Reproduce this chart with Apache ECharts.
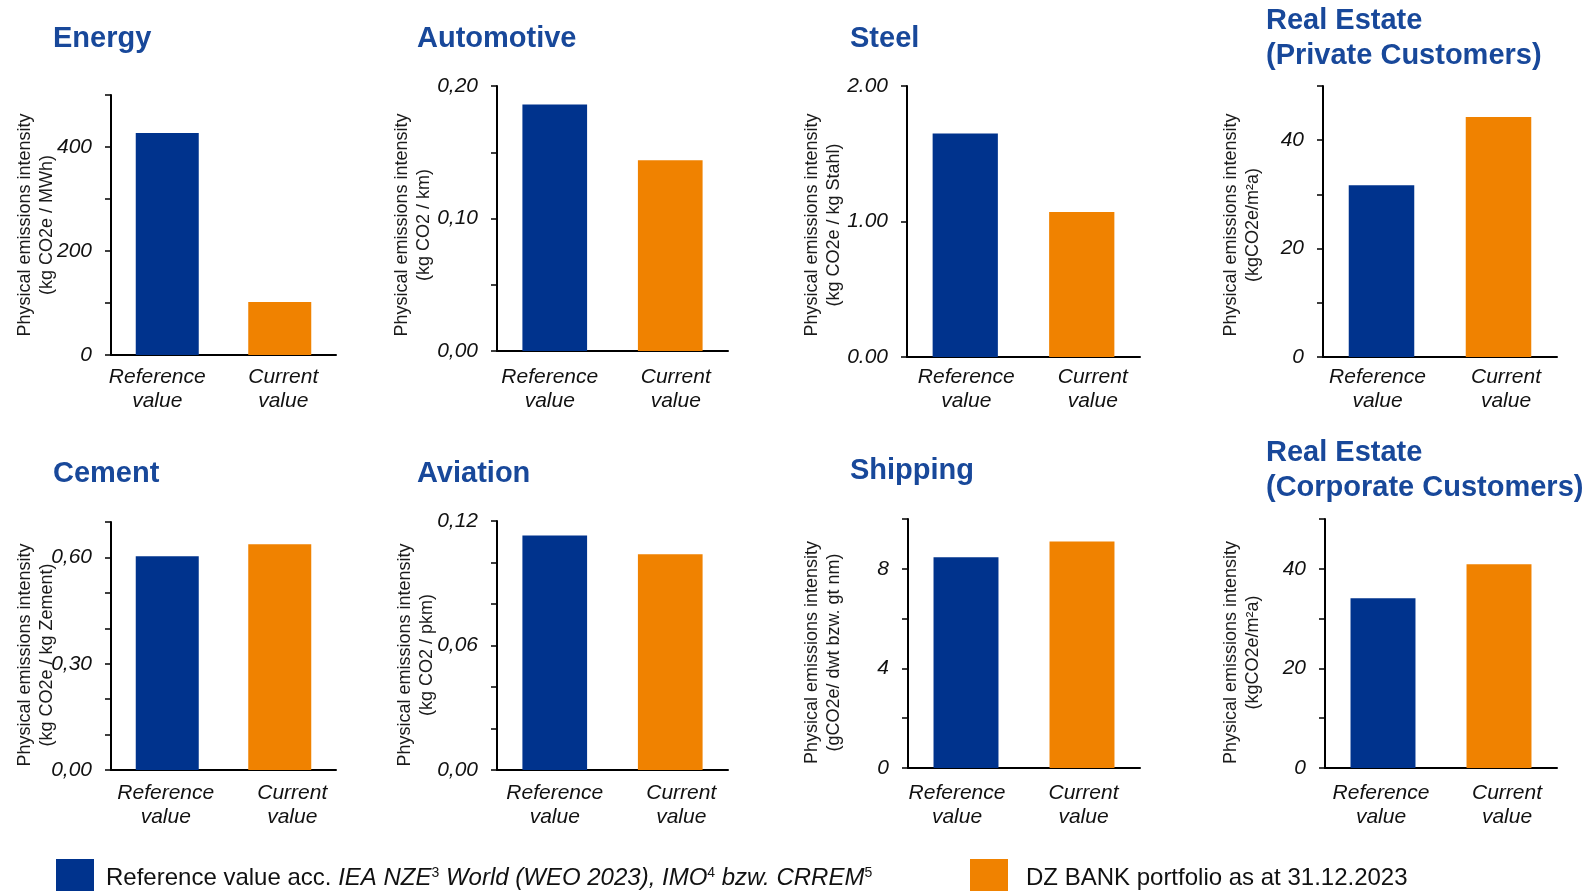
<!DOCTYPE html>
<html>
<head>
<meta charset="utf-8">
<script src="https://cdn.jsdelivr.net/npm/echarts@6/dist/echarts.min.js"></script>
<style>
  html, body { margin: 0; padding: 0; background: #ffffff; }
  #chart { width: 1590px; height: 891px; }
</style>
</head>
<body>
<div id="chart"></div>
<script>
// ---- data ----
const sectors = [
  'Energy', 'Automotive', 'Steel', 'Real Estate\n(Private Customers)',
  'Cement', 'Aviation', 'Shipping', 'Real Estate\n(Corporate Customers)'
];
const categories = ['Reference\nvalue', 'Current\nvalue'];
const referenceValues = [427, 0.186, 1.65, 31.7, 0.603, 0.113, 8.46, 34.1];
const currentValues   = [102, 0.144, 1.07, 44.3, 0.637, 0.104, 9.10, 40.9];
const axisMax  = [500, 0.20, 2, 50, 0.7, 0.12, 10, 50];
const tickStep = [100, 0.05, 1, 10, 0.1, 0.02, 2, 10];
const tickLabels = [
  ['0', '200', '400'],
  ['0,00', '0,10', '0,20'],
  ['0.00', '1.00', '2.00'],
  ['0', '20', '40'],
  ['0,00', '0,30', '0,60'],
  ['0,00', '0,06', '0,12'],
  ['0', '4', '8'],
  ['0', '20', '40']
];
const axisTitle = 'Physical emissions intensity';
const axisUnits = [
  '(kg CO2e / MWh)', '(kg CO2 / km)', '(kg CO2e / kg Stahl)', '(kgCO2e/m²a)',
  '(kg CO2e / kg Zement)', '(kg CO2 / pkm)', '(gCO2e/ dwt bzw. gt nm)', '(kgCO2e/m²a)'
];
const seriesNames = ['Reference value', 'Current value'];

// ---- styling / layout ----
const FONT = '"Liberation Sans", Arial, Helvetica, sans-serif';
const BLUE = '#00338d';
const ORANGE = '#f08200';
const TITLE_BLUE = '#18489a';

// grid: [left, top, width, height]; title: [left, top]; name: centre of rotated axis title
const panels = [
  { grid: [111, 95, 225, 260],  title: [53, 21],     name: [36, 225],     margin: 10.5, shift: [-10, 3.5] },
  { grid: [497, 86, 231, 265],  title: [417, 21.5],  name: [413, 225],    margin: 14.5, shift: [-5, 5.5] },
  { grid: [907, 86, 233, 271],  title: [850, 21.5],  name: [823, 225],    margin: 8.5,  shift: [1, 11] },
  { grid: [1323, 86, 234, 271], title: [1266, 3.8],  name: [1242, 225],   margin: 8.5,  shift: [-4, 7.5] },
  { grid: [111, 522, 225, 248], title: [53, 456],    name: [36, 655],     margin: 11.5, shift: [-1.5, 12.5] },
  { grid: [497, 521, 231, 249], title: [417, 456],   name: [416, 655],    margin: 11.5, shift: [0, 11] },
  { grid: [908, 519, 232, 249], title: [850, 453.8], name: [823, 652.5],  margin: 13.5, shift: [-9, 1.5] },
  { grid: [1325, 519, 232, 249], title: [1266, 435], name: [1242, 652.5], margin: 13.5, shift: [-2, 8] }
];

function shiftPadding(d) {
  return d >= 0 ? [0, 0, 0, 2 * d] : [0, -2 * d, 0, 0];
}

function tickFormatter(i) {
  return function (v) {
    const tol = tickStep[i] * 1e-3;
    for (const t of tickLabels[i]) {
      if (Math.abs(parseFloat(t.replace(',', '.')) - v) < tol) return t;
    }
    return '';
  };
}

const grid = [], xAxis = [], yAxis = [], series = [], title = [], graphic = [];

panels.forEach((p, i) => {
  grid.push({ left: p.grid[0], top: p.grid[1], width: p.grid[2], height: p.grid[3], containLabel: false });

  xAxis.push({
    type: 'category',
    gridIndex: i,
    data: categories.map((c, k) => ({ value: c, textStyle: { padding: shiftPadding(p.shift[k]) } })),
    axisLine: { lineStyle: { color: '#000', width: 2 } },
    axisTick: { show: false },
    axisLabel: {
      interval: 0, margin: p.margin, fontSize: 21, fontStyle: 'italic',
      fontFamily: FONT, color: '#111', lineHeight: 24
    }
  });

  yAxis.push({
    type: 'value',
    gridIndex: i,
    min: 0,
    max: axisMax[i],
    interval: tickStep[i],
    splitLine: { show: false },
    axisLine: { show: true, lineStyle: { color: '#000', width: 2 } },
    axisTick: { show: true, length: 6, lineStyle: { color: '#000', width: 1.5 } },
    axisLabel: {
      margin: 19, fontSize: 21, fontStyle: 'italic', fontFamily: FONT, color: '#111',
      formatter: tickFormatter(i)
    }
  });

  series.push({
    type: 'bar', name: seriesNames[0], xAxisIndex: i, yAxisIndex: i,
    data: [referenceValues[i], '-'], barWidth: '56%', barGap: '-100%',
    itemStyle: { color: BLUE }, silent: true
  });
  series.push({
    type: 'bar', name: seriesNames[1], xAxisIndex: i, yAxisIndex: i,
    data: ['-', currentValues[i]], barWidth: '56%', barGap: '-100%',
    itemStyle: { color: ORANGE }, silent: true
  });

  title.push({
    text: sectors[i], left: p.title[0], top: p.title[1], padding: 0,
    textStyle: { fontSize: 29, fontWeight: 'bold', color: TITLE_BLUE, fontFamily: FONT, lineHeight: 35 }
  });

  graphic.push({
    type: 'text', x: p.name[0], y: p.name[1], rotation: Math.PI / 2, silent: true,
    style: {
      text: axisTitle + '\n' + axisUnits[i], align: 'center', verticalAlign: 'middle',
      fontSize: 18, fontFamily: FONT, fill: '#1a1a1a', lineHeight: 22
    }
  });
});

const legendRich = {
  g1: { width: 7, padding: [6, 0, 0, 0] },
  g2: { width: 13, padding: [6, 0, 0, 0] },
  n: { fontSize: 24, fontFamily: FONT, color: '#111', lineHeight: 30, padding: [6, 0, 0, 0] },
  i: { fontSize: 24, fontFamily: FONT, fontStyle: 'italic', color: '#111', lineHeight: 30, padding: [6, 0, 0, 0] },
  s: { fontSize: 14, fontFamily: FONT, color: '#111', lineHeight: 22, verticalAlign: 'top', padding: [6, 0, 0, 0] }
};

const legendText = {
  'Reference value': '{g1| }{n|Reference value acc. }{i|IEA NZE}{s|3}{i| World (WEO 2023), IMO}{s|4}{i| bzw. CRREM}{s|5}',
  'Current value': '{g2| }{n|DZ BANK portfolio as at 31.12.2023}'
};

const legend = [
  { left: 56, top: 859, data: [seriesNames[0]] },
  { left: 970, top: 859, data: [seriesNames[1]] }
].map(l => Object.assign(l, {
  padding: 0, icon: 'rect', itemWidth: 38, itemHeight: 32, selectedMode: false,
  formatter: name => legendText[name],
  textStyle: { rich: legendRich }
}));

const chart = echarts.init(document.getElementById('chart'), null, { renderer: 'canvas' });
chart.setOption({
  animation: false,
  backgroundColor: '#ffffff',
  textStyle: { fontFamily: FONT },
  title, grid, xAxis, yAxis, series, legend, graphic
});
</script>
</body>
</html>
